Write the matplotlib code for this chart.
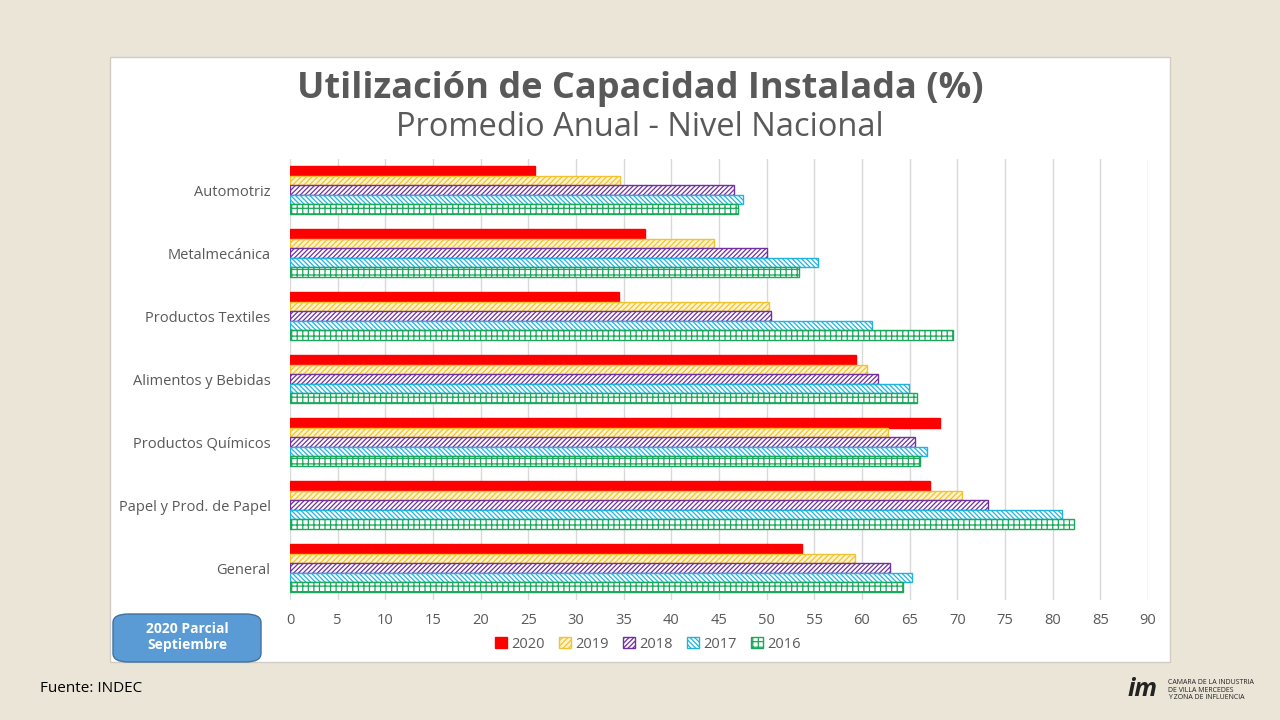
import matplotlib
matplotlib.use("Agg")
import matplotlib.pyplot as plt
from matplotlib.patches import Rectangle, FancyBboxPatch
import numpy as np

plt.rcParams["font.family"] = ["Open Sans", "DejaVu Sans"]
plt.rcParams["hatch.linewidth"] = 0.9

# data (top to bottom)
categories = ["Automotriz", "Metalmecánica", "Productos Textiles", "Alimentos y Bebidas",
              "Productos Químicos", "Papel y Prod. de Papel", "General"]
years = ["2020", "2019", "2018", "2017", "2016"]
v2020 = [25.7, 37.2, 34.5, 59.4, 68.2, 67.1, 53.7]
v2019 = [34.6, 44.5, 50.2, 60.5, 62.7, 70.5, 59.3]
v2018 = [46.6, 50.0, 50.5, 61.7, 65.6, 73.2, 62.9]
v2017 = [47.5, 55.4, 61.0, 64.9, 66.8, 81.0, 65.2]
v2016 = [47.0, 53.4, 69.5, 65.8, 66.1, 82.2, 64.3]
xticks = list(range(0, 95, 5))

series = [v2020, v2019, v2018, v2017, v2016]
styles = [
    dict(facecolor="#ff0000", edgecolor="#ff0000", hatch=None),
    dict(facecolor="#fff4cc", edgecolor="#f2c230", hatch="//////"),
    dict(facecolor="white", edgecolor="#7030a0", hatch="///////"),
    dict(facecolor="white", edgecolor="#1fb4e0", hatch="\\\\\\\\\\\\\\"),
    dict(facecolor="white", edgecolor="#1aa85a", hatch="+++"),
]

TXT = "#595959"

fig = plt.figure(figsize=(12.8, 7.2), dpi=100)
fig.patch.set_facecolor("#ebe5d8")

# white chart panel (behind the axes)
fig.patches.append(Rectangle((110 / 1280, 1 - 662 / 720), 1060 / 1280, 605 / 720,
                             transform=fig.transFigure, facecolor="white",
                             edgecolor="#d0ccc4", linewidth=1.0, zorder=-10))

ax = fig.add_axes([290 / 1280, 1 - 599.5 / 720, 858 / 1280, 441 / 720])
ax.set_facecolor("white")

h = 0.15
y = np.arange(len(categories))
for k, (vals, st, yr) in enumerate(zip(series, styles, years)):
    ax.barh(y + (k - 2) * h, vals, height=h, label=yr, linewidth=1.0, zorder=3, **st)

ax.set_xlim(0, 90)
ax.set_ylim(len(categories) - 0.5, -0.5)
ax.set_xticks(xticks)
ax.set_yticks(y)
ax.set_yticklabels(categories)
ax.tick_params(axis="both", length=0, colors=TXT, labelsize=10.5)
ax.tick_params(axis="x", pad=10)
ax.tick_params(axis="y", pad=14)
ax.grid(axis="x", color="#d9d9d9", linewidth=1.0, zorder=0)
for s in ax.spines.values():
    s.set_visible(False)

fig.legend(loc="center", bbox_to_anchor=(648 / 1280, 1 - 644 / 720), ncol=5,
           frameon=False, fontsize=10.5, handlelength=0.8, handleheight=0.8,
           handletextpad=0.3, columnspacing=1.0, labelcolor=TXT)

fig.text(640 / 1280, 1 - 89 / 720, "Utilización de Capacidad Instalada (%)",
         ha="center", va="center", fontsize=26, fontweight="bold", color=TXT)
fig.text(640 / 1280, 1 - 127 / 720, "Promedio Anual - Nivel Nacional",
         ha="center", va="center", fontsize=23.5, color=TXT)

# note box
fig.patches.append(FancyBboxPatch((113 / 1280, 1 - 662 / 720), 148 / 1280, 48 / 720,
                                  boxstyle="round,pad=0,rounding_size=0.012",
                                  transform=fig.transFigure, facecolor="#5b9bd5",
                                  edgecolor="#41719c", linewidth=1.0, zorder=2))
fig.text(187 / 1280, 1 - 637 / 720, "2020 Parcial\nSeptiembre", ha="center", va="center",
         fontsize=10, fontweight="bold", color="white", linespacing=1.25)

fig.text(40 / 1280, 1 - 688 / 720, "Fuente: INDEC", ha="left", va="center",
         fontsize=11, color="black")

# logo
fig.text(1128 / 1280, 1 - 690 / 720, "im", ha="left", va="center", fontsize=18,
         fontweight="bold", color="#222222", fontstyle="italic")
fig.text(1168 / 1280, 1 - 690 / 720,
         "CAMARA DE LA INDUSTRIA\nDE VILLA MERCEDES\nY ZONA DE INFLUENCIA",
         ha="left", va="center", fontsize=5, color="#222222", linespacing=1.1)

fig.savefig("out.png", dpi=100, facecolor=fig.get_facecolor())
